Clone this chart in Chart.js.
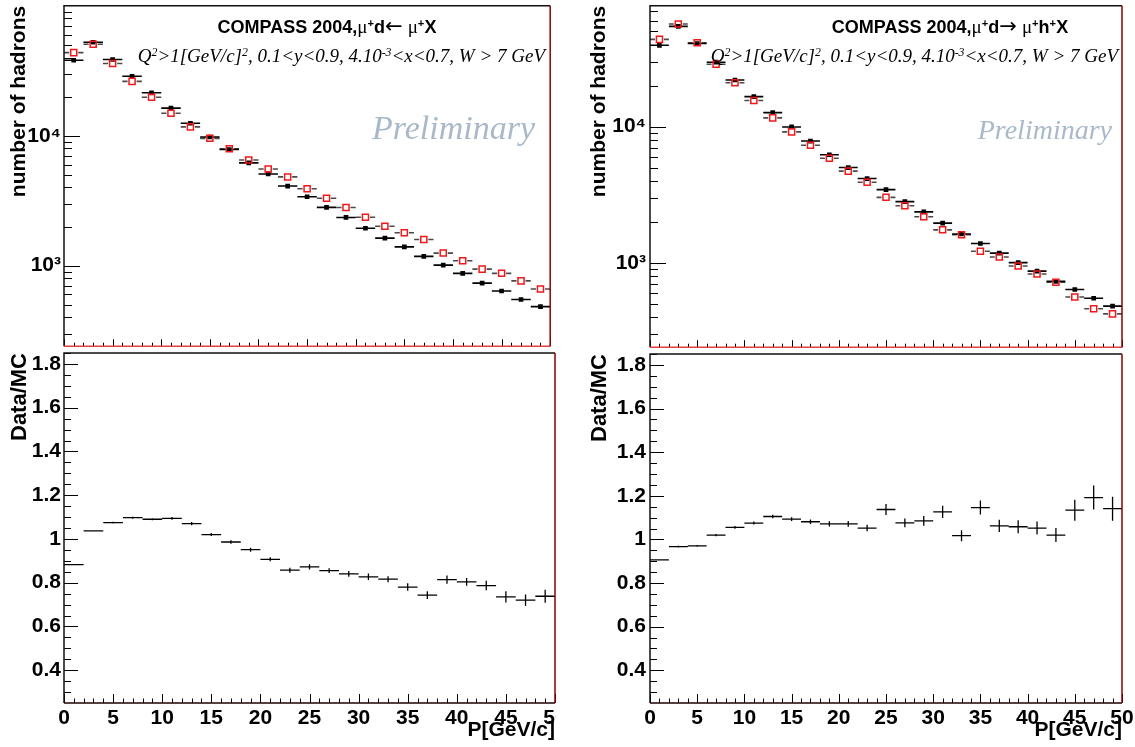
<!DOCTYPE html>
<html><head><meta charset="utf-8">
<script src="https://cdn.jsdelivr.net/npm/chart.js@4.4.0/dist/chart.umd.min.js"></script>
<style>
html,body{margin:0;padding:0;background:#fff;}
body{width:1135px;height:747px;position:relative;overflow:hidden;}
canvas{position:absolute;}
.t{position:absolute;white-space:nowrap;line-height:1;color:#000;}
.title{font:bold 18px "Liberation Sans",Arial,sans-serif;}
.title .g{font-weight:normal;font-family:"Liberation Serif",serif;font-size:19px;line-height:0;}
.title .arr{font-weight:normal;font-family:"DejaVu Sans",sans-serif;font-size:21px;line-height:0;}
.sub{font:italic 19px "Liberation Serif","Times New Roman",serif;}
.prel{font-family:"Liberation Serif","Times New Roman",serif;font-style:italic;color:#a9b9c9;}
sup{font-size:62%;position:relative;top:-0.5em;vertical-align:baseline;line-height:0;}
</style></head>
<body>
<canvas id="c1" width="556" height="352" style="left:0;top:0;width:556px;height:352px"></canvas>
<canvas id="c2" width="556" height="395" style="left:0;top:352px;width:556px;height:395px"></canvas>
<canvas id="c3" width="557" height="353" style="left:578px;top:0;width:557px;height:353px"></canvas>
<canvas id="c4" width="557" height="394" style="left:578px;top:353px;width:557px;height:394px"></canvas>

<div class="t title" style="left:327px;top:17px;transform:translateX(-50%)">COMPASS 2004,<span class="g">μ</span><sup>+</sup>d<span class="arr">←</span> <span class="g">μ</span><sup>+</sup>X</div>
<div class="t sub" style="right:590px;top:45px">Q<sup>2</sup>&gt;1[GeV/c]<sup>2</sup>, 0.1&lt;y&lt;0.9, 4.10<sup>-3</sup>&lt;x&lt;0.7, W &gt; 7 GeV</div>
<div class="t prel" style="right:600px;top:111px;font-size:34px">Preliminary</div>

<div class="t title" style="left:950px;top:17px;transform:translateX(-50%)">COMPASS 2004,<span class="g">μ</span><sup>+</sup>d<span class="arr">→</span> <span class="g">μ</span><sup>+</sup>h<sup>+</sup>X</div>
<div class="t sub" style="right:17px;top:45px">Q<sup>2</sup>&gt;1[GeV/c]<sup>2</sup>, 0.1&lt;y&lt;0.9, 4.10<sup>-3</sup>&lt;x&lt;0.7, W &gt; 7 GeV</div>
<div class="t prel" style="right:23px;top:116px;font-size:28px">Preliminary</div>

<script>
// ---------------- data ----------------
const bins = [1,3,5,7,9,11,13,15,17,19,21,23,25,27,29,31,33,35,37,39,41,43,45,47,49];
const binWidth = 2;
const xTickLabels = [0,5,10,15,20,25,30,35,40,45,50];
const logTickLabels = [1000, 10000];
const ratioTickLabels = [0.4,0.6,0.8,1.0,1.2,1.4,1.6,1.8];

// left: mu+ d -> mu+ X
const dataMuX = [38100,52400,38600,28700,21400,16300,12470,9780,7840,6180,5080,4100,3390,2810,2350,1940,1630,1395,1180,1009,873,734,638,549,484];
const mcMuX   = [43600,50600,36000,26200,19800,14900,11700,9550,7940,6510,5540,4820,3910,3300,2800,2360,2010,1790,1590,1250,1090,941,873,764,661];
const ratioMuX    = [0.883,1.037,1.075,1.097,1.090,1.094,1.070,1.020,0.986,0.951,0.907,0.857,0.872,0.855,0.840,0.827,0.816,0.780,0.743,0.814,0.804,0.787,0.735,0.720,0.738];
const ratioErrMuX = [0.003,0.003,0.004,0.005,0.005,0.006,0.007,0.007,0.008,0.009,0.009,0.011,0.012,0.011,0.013,0.015,0.014,0.017,0.018,0.019,0.018,0.022,0.026,0.026,0.030];

// right: mu+ d -> mu+ h+ X
const dataMuHX = [39500,54400,40700,29700,22000,16600,12670,9950,7840,6220,5010,4160,3450,2820,2370,1960,1630,1390,1180,1005,871,733,639,551,482];
const mcMuHX   = [43700,56600,41300,28700,20970,15560,11600,9160,7300,5860,4720,3910,3030,2630,2180,1750,1610,1220,1105,951,829,722,562,461,423];
const ratioMuHX    = [0.906,0.967,0.970,1.020,1.055,1.075,1.105,1.093,1.081,1.071,1.071,1.052,1.137,1.076,1.085,1.126,1.017,1.146,1.062,1.058,1.052,1.020,1.134,1.192,1.141];
const ratioErrMuHX = [0.003,0.004,0.004,0.005,0.006,0.007,0.008,0.009,0.010,0.012,0.013,0.015,0.025,0.020,0.022,0.028,0.025,0.032,0.028,0.030,0.030,0.032,0.048,0.055,0.055];

// ---------------- helpers ----------------
Chart.defaults.font.family = '"Liberation Sans", Arial, sans-serif';
const pts = arr => bins.map((x, i) => ({x, y: arr[i]}));

const errorBarPlugin = {
  id: 'errbars',
  beforeDatasetsDraw(chart) {
    const {ctx, chartArea: a} = chart;
    const xs = chart.scales.x, ys = chart.scales.y;
    ctx.save();
    ctx.beginPath(); ctx.rect(a.left, a.top, a.right - a.left, a.bottom - a.top); ctx.clip();
    chart.data.datasets.forEach(ds => {
      if (!ds.bars) return;
      ctx.strokeStyle = ds.bars.color; ctx.lineWidth = ds.bars.width;
      ctx.beginPath();
      ds.data.forEach((p, i) => {
        const px = xs.getPixelForValue(p.x), py = ys.getPixelForValue(p.y);
        const x0 = xs.getPixelForValue(p.x - binWidth / 2), x1 = xs.getPixelForValue(p.x + binWidth / 2);
        const g = ds.bars.gap || 0;
        if (g) { ctx.moveTo(x0, py); ctx.lineTo(px - g, py); ctx.moveTo(px + g, py); ctx.lineTo(x1, py); }
        else { ctx.moveTo(x0, py); ctx.lineTo(x1, py); }
        if (ds.errY) {
          const e = ds.errY[i];
          ctx.moveTo(px, ys.getPixelForValue(p.y - e)); ctx.lineTo(px, ys.getPixelForValue(p.y + e));
        }
      });
      ctx.stroke();
    });
    ctx.restore();
  }
};

const framePlugin = {
  id: 'rootFrame',
  afterDraw(chart, args, o) {
    const {ctx, chartArea: a} = chart;
    const xs = chart.scales.x, ys = chart.scales.y;
    ctx.save();
    ctx.strokeStyle = '#000'; ctx.lineWidth = 1;
    ctx.beginPath();
    for (let v = 0; v <= 50; v += 1) {
      const px = Math.round(xs.getPixelForValue(v)) + 0.5;
      const len = v % 5 === 0 ? o.xMajor : o.xMinor;
      ctx.moveTo(px, a.bottom); ctx.lineTo(px, a.bottom - len);
    }
    o.yMajorVals.forEach(v => {
      const py = Math.round(ys.getPixelForValue(v)) + 0.5;
      if (py < a.top || py > a.bottom) return;
      ctx.moveTo(a.left, py); ctx.lineTo(a.left + o.yMajor, py);
    });
    o.yMinorVals.forEach(v => {
      const py = Math.round(ys.getPixelForValue(v)) + 0.5;
      if (py < a.top || py > a.bottom) return;
      ctx.moveTo(a.left, py); ctx.lineTo(a.left + o.yMinor, py);
    });
    ctx.stroke();
    ctx.lineWidth = 1.5;
    ctx.strokeStyle = '#111';
    ctx.beginPath();
    ctx.moveTo(a.left, a.bottom); ctx.lineTo(a.left, a.top); ctx.lineTo(a.right, a.top);
    ctx.stroke();
    ctx.strokeStyle = o.bottomColor;
    ctx.beginPath(); ctx.moveTo(a.left, a.bottom); ctx.lineTo(a.right, a.bottom); ctx.stroke();
    ctx.strokeStyle = '#8b0000';
    ctx.beginPath(); ctx.moveTo(a.right, a.top); ctx.lineTo(a.right, a.bottom); ctx.stroke();
    ctx.restore();
  }
};

function logMinors(min, max) {
  const out = [];
  for (let k = 1; k <= 5; k++) for (let m = 2; m <= 9; m++) {
    const v = m * Math.pow(10, k);
    if (v >= min && v <= max) out.push(v);
  }
  return out;
}
function linMinors(min, max, step) {
  const out = [];
  for (let v = Math.ceil(min / step) * step; v <= max + 1e-9; v += step) out.push(+v.toFixed(3));
  return out;
}
const supMap = {'3': '\u00b3', '4': '\u2074', '5': '\u2075', '2': '\u00b2'};

function topChart(id, pad, yWidth, yTitlePad, yLabelPad, ymin, ymax, dataArr, mcArr) {
  return new Chart(document.getElementById(id), {
    type: 'scatter',
    data: {datasets: [
      {label: 'MC', data: pts(mcArr), order: 0, showLine: false,
       pointStyle: 'rect', pointRadius: 4.3, pointBorderWidth: 1.5,
       pointBorderColor: '#f01818', pointBackgroundColor: 'rgba(0,0,0,0)',
       bars: {color: '#4a4a4a', width: 1.6, gap: 4.5}},
      {label: 'Data', data: pts(dataArr), order: 1, showLine: false,
       pointStyle: 'rect', pointRadius: 3.3, pointBorderWidth: 0,
       pointBorderColor: '#000', pointBackgroundColor: '#000',
       bars: {color: '#000', width: 1.6}}
    ]},
    options: {
      responsive: false, devicePixelRatio: 1, animation: false,
      layout: {padding: pad},
      plugins: {legend: {display: false}, tooltip: {enabled: false},
        rootFrame: {xMajor: 7, xMinor: 3.5, yMajor: 16, yMinor: 8,
          yMajorVals: logTickLabels, yMinorVals: logMinors(ymin, ymax), bottomColor: '#e04040'}},
      scales: {
        x: {type: 'linear', min: 0, max: 50, display: false},
        y: {type: 'logarithmic', min: ymin, max: ymax,
          grid: {display: false, drawTicks: false}, border: {display: false},
          afterBuildTicks: s => { s.ticks = logTickLabels.map(v => ({value: v})); },
          afterFit: s => { s.width = yWidth; s.paddingTop = 0; s.paddingBottom = 0; },
          ticks: {padding: yLabelPad, color: '#000', font: {size: 21, weight: 'bold'},
            callback: v => '10' + String(Math.round(Math.log10(v))).split('').map(c => supMap[c] || c).join('')},
          title: {display: true, text: 'number of hadrons', align: 'end', color: '#000',
            font: {size: 21, weight: 'bold'}, padding: {top: yTitlePad, bottom: 0}}
        }
      }
    },
    plugins: [errorBarPlugin, framePlugin]
  });
}

function ratioChart(id, pad, yWidth, yTitlePad, yLabelPad, vals, errs) {
  return new Chart(document.getElementById(id), {
    type: 'scatter',
    data: {datasets: [
      {label: 'Data/MC', data: pts(vals), errY: errs, showLine: false, pointRadius: 0,
       bars: {color: '#000', width: 1.3}}
    ]},
    options: {
      responsive: false, devicePixelRatio: 1, animation: false,
      layout: {padding: pad},
      plugins: {legend: {display: false}, tooltip: {enabled: false},
        rootFrame: {xMajor: 9, xMinor: 4.5, yMajor: 14, yMinor: 7,
          yMajorVals: ratioTickLabels, yMinorVals: linMinors(0.25, 1.85, 0.05), bottomColor: '#200'}},
      scales: {
        x: {type: 'linear', min: 0, max: 50,
          grid: {display: false, drawTicks: false}, border: {display: false},
          afterBuildTicks: s => { s.ticks = xTickLabels.map(v => ({value: v})); },
          afterFit: s => { s.height = 44; s.paddingLeft = 0; s.paddingRight = 0; },
          ticks: {padding: 3, color: '#000', font: {size: 21, weight: 'bold'}, maxRotation: 0, autoSkip: false},
          title: {display: true, text: 'P[GeV/c]', align: 'end', color: '#000',
            font: {size: 21, weight: 'bold'}, padding: {top: 0, bottom: 4}}
        },
        y: {type: 'linear', min: 0.25, max: 1.85,
          grid: {display: false, drawTicks: false}, border: {display: false},
          afterBuildTicks: s => { s.ticks = ratioTickLabels.map(v => ({value: v})); },
          afterFit: s => { s.width = yWidth; s.paddingTop = 0; s.paddingBottom = 0; },
          ticks: {padding: yLabelPad, color: '#000', font: {size: 21, weight: 'bold'},
            callback: v => String(+(+v).toFixed(1))},
          title: {display: true, text: 'Data/MC', align: 'end', color: '#000',
            font: {size: 22, weight: 'bold'}, padding: {top: yTitlePad, bottom: 0}}
        }
      }
    },
    plugins: [errorBarPlugin, framePlugin]
  });
}

topChart('c1', {top: 4, right: 1, bottom: 1, left: 0}, 64, 7, 3, 240, 100000, dataMuX, mcMuX);
ratioChart('c2', {top: 1, right: 1, bottom: 0, left: 0}, 64, 7, 3, ratioMuX, ratioErrMuX);
topChart('c3', {top: 5, right: 13, bottom: 1, left: 0}, 72, 9, 4, 241, 77000, dataMuHX, mcMuHX);
ratioChart('c4', {top: 1, right: 13, bottom: 0, left: 0}, 72, 9, 4, ratioMuHX, ratioErrMuHX);
</script>
</body></html>
